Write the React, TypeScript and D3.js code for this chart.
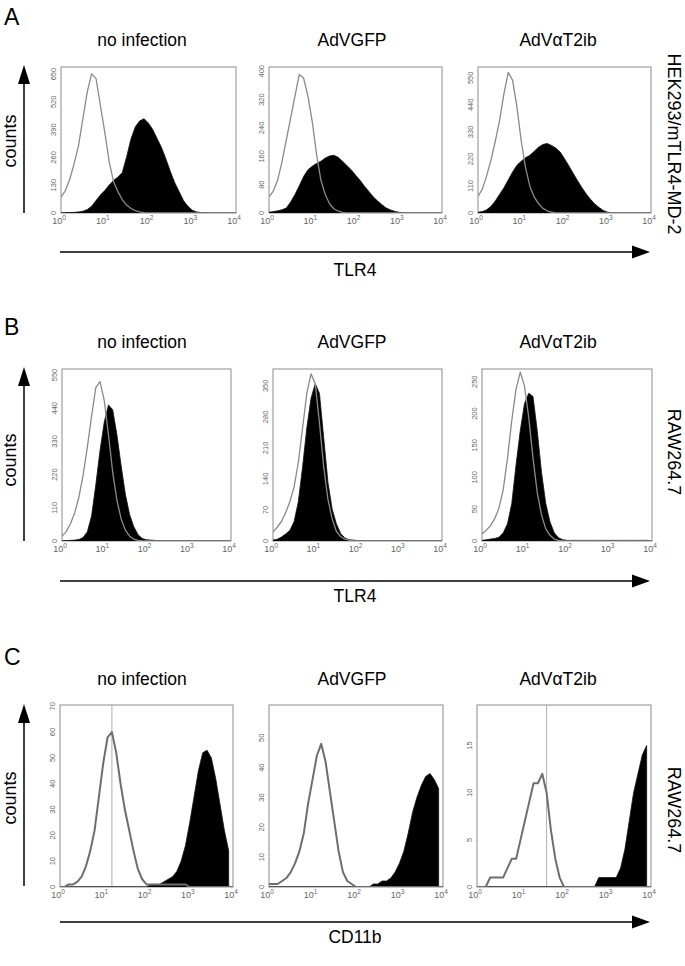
import React from 'react';
import * as d3 from 'd3';

// log10 of fluorescence intensity for each histogram bin (10^0 .. 10^4)
const LOG_BINS = [0,0.1,0.2,0.3,0.4,0.5,0.6,0.7,0.8,0.9,1.0,1.1,1.2,1.3,1.4,1.5,1.6,1.7,1.8,1.9,2.0,2.1,2.2,2.3,2.4,2.5,2.6,2.7,2.8,2.9,3.0,3.1,3.2,3.3,3.4,3.5,3.6,3.7,3.8,3.9,4.0];

const ROW_NAMES = ['A', 'B', 'C'];
const COLUMN_TITLES = ['no infection', 'AdVGFP', 'AdVαT2ib'];
const ROW_CELL_LABELS = ['HEK293/mTLR4-MD-2', 'RAW264.7', 'RAW264.7'];
const ROW_X_LABELS = ['TLR4', 'TLR4', 'CD11b'];
const X_TICK_EXPONENTS = [0, 1, 2, 3, 4];

// y-axis maxima (top of each frame) and labelled ticks
const Y_MAX = [[683, 412, 594], [570, 388, 270], [70.5, 61, 19.3]];
const Y_TICKS = [
  [[0,130,260,390,520,650],[0,80,160,240,320,400],[0,110,220,330,440,550]],
  [[0,110,220,330,440,550],[0,70,140,210,280,350],[0,50,100,150,200,250]],
  [[0,10,20,30,40,50,60,70],[0,10,20,30,40,50],[0,5,10,15]],
];

// Row A (HEK293/mTLR4-MD-2, TLR4)
const A1_OPEN = [74,105,158,231,315,441,567,651,630,504,378,242,147,100,63,37,21,11,5,2,0,0,0,0,0,0,0,0,0,0,0,0,0,0,0,0,0,0,0,0,0];
const A1_FILLED = [0,1,2,3,5,8,16,32,58,84,105,131,152,168,189,263,347,404,431,441,420,389,347,305,252,194,142,100,58,32,13,5,2,1,0,0,0,0,0,0,0];
const A2_OPEN = [46,62,93,144,206,268,330,391,381,330,258,165,93,52,26,12,5,2,0,0,0,0,0,0,0,0,0,0,0,0,0,0,0,0,0,0,0,0,0,0,0];
const A2_FILLED = [2,4,6,9,14,31,52,77,103,122,132,140,146,155,161,163,157,146,134,122,107,93,77,62,47,35,25,15,9,5,2,1,0,0,0,0,0,0,0,0,0];
const A3_OPEN = [67,97,151,216,292,378,486,572,540,432,292,184,108,65,38,19,9,3,0,0,0,0,0,0,0,0,0,0,0,0,0,0,0,0,0,0,0,0,0,0,0];
const A3_FILLED = [3,6,13,27,49,76,103,135,167,194,211,225,235,251,268,279,283,275,264,248,221,192,162,132,104,78,56,37,22,10,3,1,0,0,0,0,0,0,0,0,0];

// Row B (RAW264.7, TLR4)
const B1_OPEN = [16,31,57,93,145,218,311,414,508,528,466,352,228,135,73,36,16,6,2,0,0,0,0,0,0,0,0,0,0,0,0,0,0,0,0,0,0,0,0,0,0];
const B1_FILLED = [0,1,2,3,5,12,31,83,186,300,394,451,435,352,249,155,88,47,21,8,4,3,2,1,1,1,1,1,1,1,1,1,1,1,1,1,1,1,1,1,0];
const B2_OPEN = [20,31,44,64,89,122,178,255,333,377,355,266,167,94,50,22,10,4,2,0,0,0,0,0,0,0,0,0,0,0,0,0,0,0,0,0,0,0,0,0,0];
const B2_FILLED = [2,4,9,16,24,44,89,167,255,322,355,333,233,133,72,39,17,7,3,2,1,1,1,1,1,1,1,1,1,1,1,1,1,1,1,1,1,1,1,1,0];
const B3_OPEN = [11,17,24,35,52,81,130,189,238,265,243,194,130,76,41,19,9,3,1,0,0,0,0,0,0,0,0,0,0,0,0,0,0,0,0,0,0,0,0,0,0];
const B3_FILLED = [1,2,3,4,6,13,27,59,119,173,216,232,227,173,108,59,30,13,5,2,1,1,1,1,1,1,1,1,1,1,1,1,1,1,1,1,1,1,1,1,0];

// Row C (RAW264.7, CD11b) — null marks bins beyond the last recorded channel
const C1_OPEN = [0,0,1,1,2,4,8,14,22,35,48,58,60,52,40,30,22,14,7,3,1,1,1,1,1,1,1,1,1,1,0,0,0,0,0,0,0,0,0,0,0];
const C1_FILLED = [0,0,0,0,0,0,0,0,0,0,0,0,0,0,0,0,0,0,0,0,0,1,1,1,2,3,4,6,10,16,25,35,45,52,53,50,42,32,22,14,null];
const C2_OPEN = [1,1,1,2,3,5,8,12,18,28,36,44,48,42,32,22,12,5,2,1,0,0,0,0,0,0,0,0,0,0,0,0,0,0,0,0,0,0,0,0,0];
const C2_FILLED = [0,0,0,0,0,0,0,0,0,0,0,0,0,0,0,0,0,0,0,0,0,0,0,0,1,1,2,2,3,5,8,12,18,25,30,34,37,38,36,33,null];
const C3_OPEN = [0,0,0,1,1,1,1,2,3,3,5,7,9,11,11,12,10,6,3,1,0,0,0,0,0,0,0,0,0,0,0,0,0,0,0,0,0,0,0,0,0];
const C3_FILLED = [0,0,0,0,0,0,0,0,0,0,0,0,0,0,0,0,0,0,0,0,0,0,0,0,0,0,0,0,1,1,1,1,1,2,4,7,10,12,14,15,null];

// marker lines (log10 position) drawn in the CD11b panels
const C_MARKER_LOGS = [1.2, null, 1.6];

const OPEN_SERIES = [[A1_OPEN, A2_OPEN, A3_OPEN], [B1_OPEN, B2_OPEN, B3_OPEN], [C1_OPEN, C2_OPEN, C3_OPEN]];
const FILLED_SERIES = [[A1_FILLED, A2_FILLED, A3_FILLED], [B1_FILLED, B2_FILLED, B3_FILLED], [C1_FILLED, C2_FILLED, C3_FILLED]];

const FONT = '"Liberation Sans", Arial, Helvetica, sans-serif';

const ROWS = [
  { top: 67, bottom: 213, lefts: [61, 269, 478], rights: [236, 442, 651], letterY: 25, titleY: 46, arrowY: 252, xLabelY: 276, cellLabelY: 144, countsY: 141, arrowTip: 65, arrowBase: 213 },
  { top: 369, bottom: 541, lefts: [62, 273, 482], rights: [231, 442, 652], letterY: 335, titleY: 348, arrowY: 581, xLabelY: 602, cellLabelY: 452, countsY: 460, arrowTip: 367, arrowBase: 541 },
  { top: 705, bottom: 887, lefts: [60, 269, 477], rights: [233, 443, 651], letterY: 665, titleY: 685, arrowY: 922, xLabelY: 943, cellLabelY: 810, countsY: 798, arrowTip: 704, arrowBase: 886 },
];
const TITLE_X = [142, 352, 558];

type Pt = { log: number; v: number | null };

function Histogram({ r, c }: { r: number; c: number }) {
  const row = ROWS[r];
  const left = row.lefts[c];
  const right = row.rights[c];
  const x = d3.scaleLog().domain([1, 1e4]).range([left, right]);
  const y = d3.scaleLinear().domain([0, Y_MAX[r][c]]).range([row.bottom, row.top]);
  const open: Pt[] = LOG_BINS.map((l, i) => ({ log: l, v: OPEN_SERIES[r][c][i] }));
  const filled: Pt[] = LOG_BINS.map((l, i) => ({ log: l, v: FILLED_SERIES[r][c][i] }));
  const area = d3.area<Pt>()
    .defined(d => d.v != null)
    .x(d => x(Math.pow(10, d.log)))
    .y0(y(0))
    .y1(d => y(d.v as number));
  const line = d3.line<Pt>()
    .defined(d => d.v != null)
    .x(d => x(Math.pow(10, d.log)))
    .y(d => y(d.v as number));
  const isC = r === 2;
  const marker = isC ? C_MARKER_LOGS[c] : null;
  const clipId = `clip-${r}-${c}`;
  return (
    <g>
      <defs>
        <clipPath id={clipId}>
          <rect x={left} y={row.top} width={right - left} height={row.bottom - row.top} />
        </clipPath>
      </defs>
      <rect x={left} y={row.top} width={right - left} height={row.bottom - row.top} fill="#fff" stroke="#8c8c8c" strokeWidth={1} />
      <g clipPath={`url(#${clipId})`}>
        {marker != null && (
          <line x1={x(Math.pow(10, marker))} x2={x(Math.pow(10, marker))} y1={row.top} y2={row.bottom} stroke="#9a9a9a" strokeWidth={0.8} />
        )}
        <path d={area(filled) || ''} fill="#000" stroke="#111" strokeWidth={0.8} />
        <path d={line(open) || ''} fill="none" stroke={isC ? '#6e6e6e' : '#8a8a8a'} strokeWidth={isC ? 2 : 1.3} strokeLinejoin="round" />
      </g>
      {Y_TICKS[r][c].map(t => (
        <text key={t} transform={`translate(${left - 5},${y(t)}) rotate(-90)`} textAnchor="middle" fontSize={7.5} fill="#666" fontFamily={FONT}>{t}</text>
      ))}
      {X_TICK_EXPONENTS.map(e => (
        <text key={e} x={x(Math.pow(10, e)) - 2} y={row.bottom + 11} textAnchor="middle" fontSize={9} fill="#666" fontFamily={FONT}>
          10<tspan dy={-4} fontSize={6.5}>{e}</tspan>
        </text>
      ))}
    </g>
  );
}

export default function App() {
  return (
    <svg width={685} height={966} style={{ position: 'absolute', left: 0, top: 0, background: '#fff' }} fontFamily={FONT}>
      <rect x={0} y={0} width={685} height={966} fill="#fff" />
      {ROWS.map((row, r) => (
        <g key={r}>
          <text x={4} y={row.letterY} fontSize={23} fill="#000">{ROW_NAMES[r]}</text>
          {COLUMN_TITLES.map((t, c) => (
            <text key={c} x={TITLE_X[c]} y={row.titleY} textAnchor="middle" fontSize={17.5} fill="#000">{t}</text>
          ))}
          {/* counts arrow */}
          <line x1={24} x2={24} y1={row.arrowBase} y2={row.arrowTip + 16} stroke="#000" strokeWidth={1.5} />
          <polygon points={`${24},${row.arrowTip} ${18},${row.arrowTip + 19} ${30},${row.arrowTip + 19}`} fill="#000" />
          <text transform={`translate(10,${row.countsY}) rotate(-90)`} textAnchor="middle" dominantBaseline="central" fontSize={18} fill="#000">counts</text>
          {/* x-axis arrow */}
          <line x1={60} x2={636} y1={row.arrowY} y2={row.arrowY} stroke="#000" strokeWidth={1.5} />
          <polygon points={`${650},${row.arrowY} ${632},${row.arrowY - 6.5} ${632},${row.arrowY + 6.5}`} fill="#000" />
          <text x={355} y={row.xLabelY} textAnchor="middle" fontSize={17.5} fill="#000">{ROW_X_LABELS[r]}</text>
          {/* cell line label */}
          <text transform={`translate(674,${row.cellLabelY}) rotate(90)`} textAnchor="middle" dominantBaseline="central" fontSize={18} fill="#000">{ROW_CELL_LABELS[r]}</text>
          {[0, 1, 2].map(c => <Histogram key={c} r={r} c={c} />)}
        </g>
      ))}
    </svg>
  );
}
